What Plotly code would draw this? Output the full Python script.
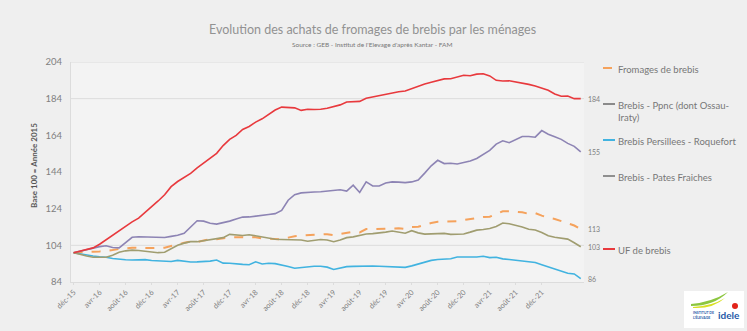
import plotly.graph_objects as go

# Monthly periods, déc-15 .. juin-22
mois = ["janv", "févr", "mars", "avr", "mai", "juin", "juil", "août", "sept", "oct", "nov", "déc"]
periodes = ["déc-15"] + [f"{m}-{y}" for y in range(16, 23) for m in mois][:78]

tick_labels = ["déc-15", "avr-16", "août-16", "déc-16", "avr-17", "août-17", "déc-17",
               "avr-18", "août-18", "déc-18", "avr-19", "août-19", "déc-19", "avr-20",
               "août-20", "déc-20", "avr-21", "août-21", "déc-21"]

fromages_brebis = [100, 100.3, 100.4, 100.5, 100.7, 100.9, 101.4, 102, 102.4, 102.7,
                   102.6, 102.4, 102.5, 102.6, 102.7, 103.6, 104.6, 105.4, 106, 105.8,
                   106.6, 107.3, 107.3, 107.9, 108.4, 108.4, 108.5, 108.7, 108.4, 107.8,
                   107.6, 107.4, 107.3, 108.2, 109, 109.3, 109.5, 109.7, 110, 110.1,
                   109.6, 110.2, 111, 111.4, 111, 112.9, 112.9, 113, 113.3, 113.6,
                   113.3, 112.9, 114, 114.1, 115.2, 116.2, 116.8, 116.8, 117, 117.2,
                   117.8, 118.3, 119.1, 119.4, 119.6, 121.2, 122.6, 122.6, 122.4, 122,
                   121.2, 121.6, 120.2, 119, 118.4, 117.3, 116.2, 114.8, 112.8]

brebis_ppnc = [100, 100.9, 101.8, 102.7, 103.3, 103.8, 102.8, 102.6, 105.6, 108.4,
               108.7, 108.7, 108.6, 108.5, 108.3, 108.9, 109.5, 110.6, 114, 117.4,
               117.2, 116, 115.6, 116.3, 117.2, 118.4, 119.4, 119.5, 119.8, 120.4,
               120.8, 121.3, 123, 128.6, 131.6, 132.6, 133, 133.1, 133.2, 133.6,
               134.1, 134.3, 133.6, 136.8, 132.8, 138.6, 136.4, 136.4, 138, 138.6,
               138.5, 138.2, 138.6, 139.6, 143.4, 147.4, 150.4, 148.6, 148.8, 148.4,
               149.2, 150, 151.4, 153.8, 155.8, 159.2, 161, 160, 161.6, 163.4,
               163.4, 163, 166.6, 164.6, 163.2, 161.8, 159.6, 158, 155]

brebis_persillees = [100, 99.3, 98.7, 98.2, 97.7, 97.5, 96.8, 96.3, 96.1, 96,
                     96.2, 96.2, 95.7, 95.6, 95.6, 95.2, 95.8, 95.2, 94.9, 95,
                     95.1, 95.4, 96, 94.3, 94.2, 94.1, 93.6, 93.4, 95, 93.8,
                     94.2, 94, 93.4, 92.5, 91.5, 92, 92.5, 92.6, 92.6, 92.1,
                     90.8, 91.8, 92.4, 92.5, 92.7, 92.6, 92.7, 92.6, 92.4, 92.2,
                     92.1, 92, 92.8, 93.8, 95, 95.8, 96.3, 96.6, 96.7, 97.6,
                     97.6, 97.4, 97.6, 98, 97.3, 97.5, 96.6, 96.3, 95.8, 95.5,
                     95.2, 94.6, 93.4, 92.2, 91.2, 90, 88.8, 88.4, 85.8]

brebis_pates_fraiches = [100, 99, 98.2, 97.5, 97.4, 97.5, 98.6, 100.2, 101, 101.4,
                         101.2, 100.9, 100.2, 100, 100.2, 102, 104, 105.2, 106, 106,
                         106.6, 107.3, 107.6, 108.2, 110, 109.6, 109.4, 109.8, 109.2, 108.2,
                         107.6, 107.3, 107.2, 107, 106.9, 106.9, 106.2, 106.8, 107.2, 106.9,
                         106, 106.9, 108.2, 108.6, 109.4, 110.2, 110.4, 110.6, 111.2, 111.8,
                         111, 110.6, 112, 110.8, 110.1, 110.1, 110.1, 110.5, 110, 110,
                         110.2, 111.2, 112.3, 112.6, 113.2, 114.3, 116.2, 115.8, 115, 114,
                         112.8, 112.4, 111, 109.2, 108.4, 107.9, 107.4, 105.4, 103.2]

uf_brebis = [100, 100.8, 101.6, 102.6, 104.6, 107, 109.8, 112.2, 114.6, 116.8,
             118.8, 121.8, 125, 128.2, 131.6, 136, 138.8, 140.8, 143.2, 146.2,
             148.8, 151.6, 154.2, 158.4, 161.8, 164, 167.2, 168.8, 171.2, 173,
             175.2, 177.8, 179.4, 179.3, 179, 177.6, 178.2, 178.1, 178.2, 178.8,
             179.6, 180.6, 182.2, 182.4, 182.5, 184.2, 185, 185.8, 186.6, 187.2,
             187.8, 188.2, 189.6, 190.6, 192, 193, 193.8, 194.8, 194.9, 195.8,
             196.8, 196.5, 197.4, 197.6, 196.4, 194, 193.6, 193.8, 193.2, 192.8,
             191.8, 190.9, 189.8, 188.6, 186.6, 185.3, 185.4, 184, 184]

y_ticks = [84, 104, 124, 144, 164, 184, 204]

series = [
    # name, values, line colour, dash, legend text, legend swatch colour, legend y (px)
    ("Fromages de brebis", fromages_brebis, "#f5a25c", "dash", "Fromages de brebis", "#f5a25c", 68),
    ("Brebis - Ppnc (dont Ossau-Iraty)", brebis_ppnc, "#8d84b4", "solid",
     "Brebis - Ppnc (dont Ossau-<br>Iraty)", "#8a8a8a", 104),
    ("Brebis Persillees - Roquefort", brebis_persillees, "#41b3e0", "solid",
     "Brebis Persillees - Roquefort", "#41b3e0", 140),
    ("Brebis - Pates Fraiches", brebis_pates_fraiches, "#a09d70", "solid",
     "Brebis - Pates Fraiches", "#8f8f8f", 176),
    ("UF de brebis", uf_brebis, "#e8393d", "solid", "UF de brebis", "#e8393d", 249),
]

FONT = "Lato, 'Open Sans', sans-serif"
GREY = "#808080"
W, H = 747, 331
L, R, T, B = 71, 163, 62, 49
plot_w, plot_h = W - L - R, H - T - B

fig = go.Figure()
x_idx = list(range(len(periodes)))


def px_to_paper_x(px):
    return (px - L) / plot_w


def px_to_paper_y(py):
    return (H - B - py) / plot_h


for name, vals, col, dash, _, _, _ in series:
    fig.add_trace(go.Scatter(
        x=x_idx, y=vals, name=name, mode="lines",
        line=dict(color=col, width=1.6 if dash == "solid" else 2, dash=dash),
        customdata=periodes, hovertemplate="%{customdata}: %{y}<extra>" + name + "</extra>",
        showlegend=False,
    ))
    # end-of-line value label
    fig.add_annotation(x=x_idx[-1], y=vals[-1], text=f"{round(vals[-1])}",
                       xref="x", yref="y", xanchor="left", yanchor="middle", xshift=5,
                       showarrow=False, font=dict(family=FONT, size=7, color=GREY))

# legend, drawn on the right of the plot
for _, _, _, dash, label, swatch, ly in series:
    fig.add_shape(type="line", xref="paper", yref="paper",
                  x0=px_to_paper_x(603), x1=px_to_paper_x(615),
                  y0=px_to_paper_y(ly), y1=px_to_paper_y(ly),
                  line=dict(color=swatch, width=2, dash="dash" if dash == "dash" else "solid"))
    fig.add_annotation(x=px_to_paper_x(616), y=px_to_paper_y(ly - 6.5), xref="paper", yref="paper",
                       text=label, xanchor="left", yanchor="top", align="left", showarrow=False,
                       font=dict(family=FONT, size=9.5, color="#777777"))

# horizontal reference lines
for gv in (104, 184):
    fig.add_shape(type="line", xref="paper", yref="y", x0=0, x1=1, y0=gv, y1=gv,
                  line=dict(color="#dcdcdc", width=1), layer="below")

# titles
fig.add_annotation(x=px_to_paper_x(372), y=px_to_paper_y(30), xref="paper", yref="paper",
                   text="Evolution des achats de fromages de brebis par les ménages",
                   showarrow=False, xanchor="center", yanchor="middle",
                   font=dict(family=FONT, size=12.5, color="#929292"))
fig.add_annotation(x=px_to_paper_x(372), y=px_to_paper_y(45), xref="paper", yref="paper",
                   text="Source : GEB - Institut de l'Elevage d'après Kantar - FAM",
                   showarrow=False, xanchor="center", yanchor="middle",
                   font=dict(family=FONT, size=6.5, color="#777777"))
fig.add_annotation(x=px_to_paper_x(27), y=px_to_paper_y(166), xref="paper", yref="paper",
                   text="<b>Base 100 = Année 2015</b>", textangle=-90, showarrow=False,
                   font=dict(family=FONT, size=8, color="#555555"))

# logo block, bottom right
fig.add_shape(type="rect", xref="paper", yref="paper",
              x0=px_to_paper_x(684), x1=px_to_paper_x(744),
              y0=px_to_paper_y(328), y1=px_to_paper_y(291),
              fillcolor="white", line=dict(width=0), layer="above")
fig.add_shape(type="path", xref="paper", yref="paper",
              path=(f"M {px_to_paper_x(691)} {px_to_paper_y(304)} "
                    f"Q {px_to_paper_x(712)} {px_to_paper_y(302)} {px_to_paper_x(728)} {px_to_paper_y(292)} "
                    f"Q {px_to_paper_x(714)} {px_to_paper_y(306)} {px_to_paper_x(691)} {px_to_paper_y(306)} Z"),
              fillcolor="#8cc63f", line=dict(width=0))
fig.add_shape(type="path", xref="paper", yref="paper",
              path=(f"M {px_to_paper_x(693)} {px_to_paper_y(307)} "
                    f"Q {px_to_paper_x(712)} {px_to_paper_y(306)} {px_to_paper_x(725)} {px_to_paper_y(298)} "
                    f"Q {px_to_paper_x(713)} {px_to_paper_y(309)} {px_to_paper_x(693)} {px_to_paper_y(308)} Z"),
              fillcolor="#d9e021", line=dict(width=0))
fig.add_shape(type="circle", xref="paper", yref="paper",
              x0=px_to_paper_x(732), x1=px_to_paper_x(738),
              y0=px_to_paper_y(309), y1=px_to_paper_y(303),
              fillcolor="#e2231a", line=dict(width=0))
fig.add_annotation(x=px_to_paper_x(729), y=px_to_paper_y(315), xref="paper", yref="paper",
                   text="<b>idele</b>", showarrow=False, xanchor="center", yanchor="middle",
                   font=dict(family=FONT, size=10, color="#1f5ba8"))
fig.add_annotation(x=px_to_paper_x(703), y=px_to_paper_y(315), xref="paper", yref="paper",
                   text="<b>INSTITUT DE<br>L'ÉLEVAGE</b>", showarrow=False, xanchor="center",
                   yanchor="middle", align="left",
                   font=dict(family=FONT, size=3.5, color="#1f5ba8"))

fig.update_layout(
    width=W, height=H,
    margin=dict(l=L, r=R, t=T, b=B, pad=0),
    paper_bgcolor="#efefef",
    plot_bgcolor="#f3f3f3",
    font=dict(family=FONT, color=GREY),
    xaxis=dict(
        range=[-0.4, 78.5],
        tickmode="array",
        tickvals=[periodes.index(t) for t in tick_labels],
        ticktext=tick_labels,
        tickangle=-45,
        tickfont=dict(size=7.5, color=GREY),
        showgrid=False, zeroline=False,
        showline=True, linecolor="#dcdcdc", linewidth=1,
        ticks="outside", ticklen=2, tickcolor="#dcdcdc",
    ),
    yaxis=dict(
        range=[84, 204],
        tickvals=y_ticks,
        tickfont=dict(size=9.5, color=GREY),
        showgrid=False, zeroline=False,
        showline=True, linecolor="#dcdcdc", linewidth=1,
        mirror=False, ticks="", ticklabelstandoff=6,
    ),
    showlegend=False,
)
# top border of plot area
fig.add_shape(type="line", xref="paper", yref="y", x0=0, x1=1, y0=204, y1=204,
              line=dict(color="#dcdcdc", width=1))

fig.write_html("out.html")
